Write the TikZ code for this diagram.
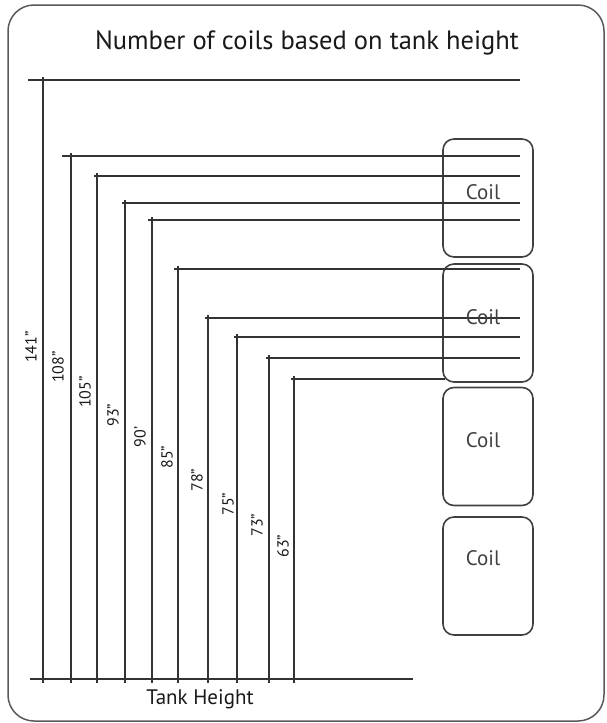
\documentclass[tikz,border=0pt]{standalone}
\usepackage{fontspec}
\setmainfont{PT Sans}
\begin{document}
\begin{tikzpicture}[x=1pt,y=-1pt,
  ln/.style={line width=1.4pt,draw=black!80},
  coilbox/.style={draw=black!75,line width=1.6pt,rounded corners=11pt,minimum width=90pt,minimum height=118pt,inner sep=0pt},
  coiltxt/.style={font=\fontsize{21}{24}\selectfont,text=black!75,inner sep=0pt},
  htlabel/.style={rotate=90,font=\fontsize{16}{18}\selectfont,text=black!90,inner sep=0pt}]
\useasboundingbox (0,0) rectangle (606,723);
\draw[draw=black!65,line width=1.5pt,rounded corners=26pt] (8,5) rectangle (604,721);
\node[font=\fontsize{26.5}{30}\selectfont,text=black!90] (title) at (307,43) {Number of coils based on tank height};
% coil boxes
\node[coilbox] (c1) at (488,198) {};
\node[coilbox] (c2) at (488,323) {};
\node[coilbox] (c3) at (488,446.5) {};
\node[coilbox] (c4) at (488,576) {};
% height lines
\foreach \n/\x/\y/\hs/\he/\lx/\ly/\t in {
  a/43/80/28/520/31/347/141”,
  b/71/156/62/520/58/367/108”,
  c/97/176/94/520/85/392/105”,
  d/125/203/122/520/113/415/93”,
  e/152/220/148/520/140/437/90’,
  f/178/269/174/520/167/457/85”,
  g/208/318/205/520/197/480/78”,
  h/237/337/234/520/228/504/75”,
  i/269/358/266/520/257/525/73”,
  j/294/379/291/445/283/546/63”}{
  \coordinate (top\n) at (\x,\y-3);
  \coordinate (bot\n) at (\x,683);
  \coordinate (hs\n) at (\hs,\y);
  \coordinate (he\n) at (\he,\y);
  \draw[ln] (top\n) -- (bot\n);
  \draw[ln] (hs\n) -- (he\n);
  \node[htlabel] (lab\n) at (\lx,\ly) {\t};
}
% baseline
\coordinate (bl) at (30,679);
\coordinate (br) at (413,679);
\draw[ln] (bl) -- (br);
\node[font=\fontsize{21}{24}\selectfont,text=black!90] (tank) at (200,699) {Tank Height};
% coil labels
\node[coiltxt] (t1) at (483,192) {Coil};
\node[coiltxt] (t2) at (483,317) {Coil};
\node[coiltxt] (t3) at (483,440) {Coil};
\node[coiltxt] (t4) at (483,558) {Coil};
\end{tikzpicture}
\end{document}
